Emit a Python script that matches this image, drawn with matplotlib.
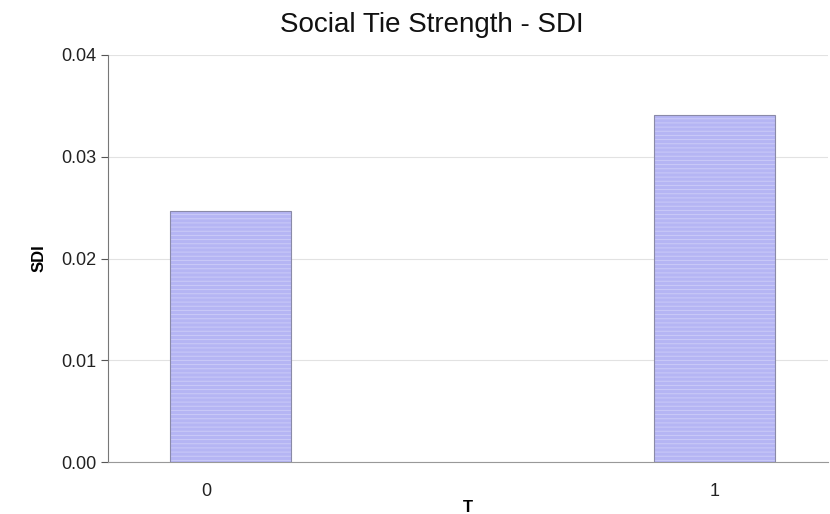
import numpy as np
import matplotlib.pyplot as plt

plt.rcParams['font.family'] = ['Liberation Sans', 'DejaVu Sans']

categories = ['0', '1']
sdi = [0.0247, 0.0341]
yticks = [0.00, 0.01, 0.02, 0.03, 0.04]

fig = plt.figure(figsize=(8.3, 5.14), dpi=100)
ax = fig.add_axes([0.130, 0.101, 0.868, 0.792])

x = np.arange(len(categories))
w = 0.25
plt.rcParams['hatch.linewidth'] = 0.7
ax.bar(x, sdi, width=w, color='#b5b5f4', edgecolor='#cbcbf8', hatch='----', linewidth=0, zorder=2)
ax.bar(x, sdi, width=w, fill=False, edgecolor='#8a8aa8', linewidth=0.8, zorder=3)

ax.set_xlim(-0.254, 1.235)
ax.set_ylim(0, 0.04)
ax.set_yticks(yticks)
ax.set_yticklabels(['%.2f' % v for v in yticks])
ax.set_xticks([x[0] - 0.05, x[1]])
ax.set_xticklabels(categories)
ax.tick_params(axis='x', length=0, pad=15, labelsize=13, colors='#222222')
ax.tick_params(axis='y', length=5, direction='out', labelsize=13, colors='#555555', labelcolor='#222222')
ax.grid(axis='y', color='#e2e2e2', linewidth=0.8, zorder=0)
for s in ['top', 'right']:
    ax.spines[s].set_visible(False)
ax.spines['left'].set_color('#777777')
ax.spines['bottom'].set_color('#999999')

fig.text(0.52, 0.952, 'Social Tie Strength - SDI', fontsize=20, ha='center', va='center', color='#111111')
ax.set_ylabel('SDI', fontsize=12, fontweight='bold', labelpad=10)
ax.set_xlabel('T', fontsize=12, fontweight='bold', labelpad=0)

fig.savefig('out.png', dpi=100)
